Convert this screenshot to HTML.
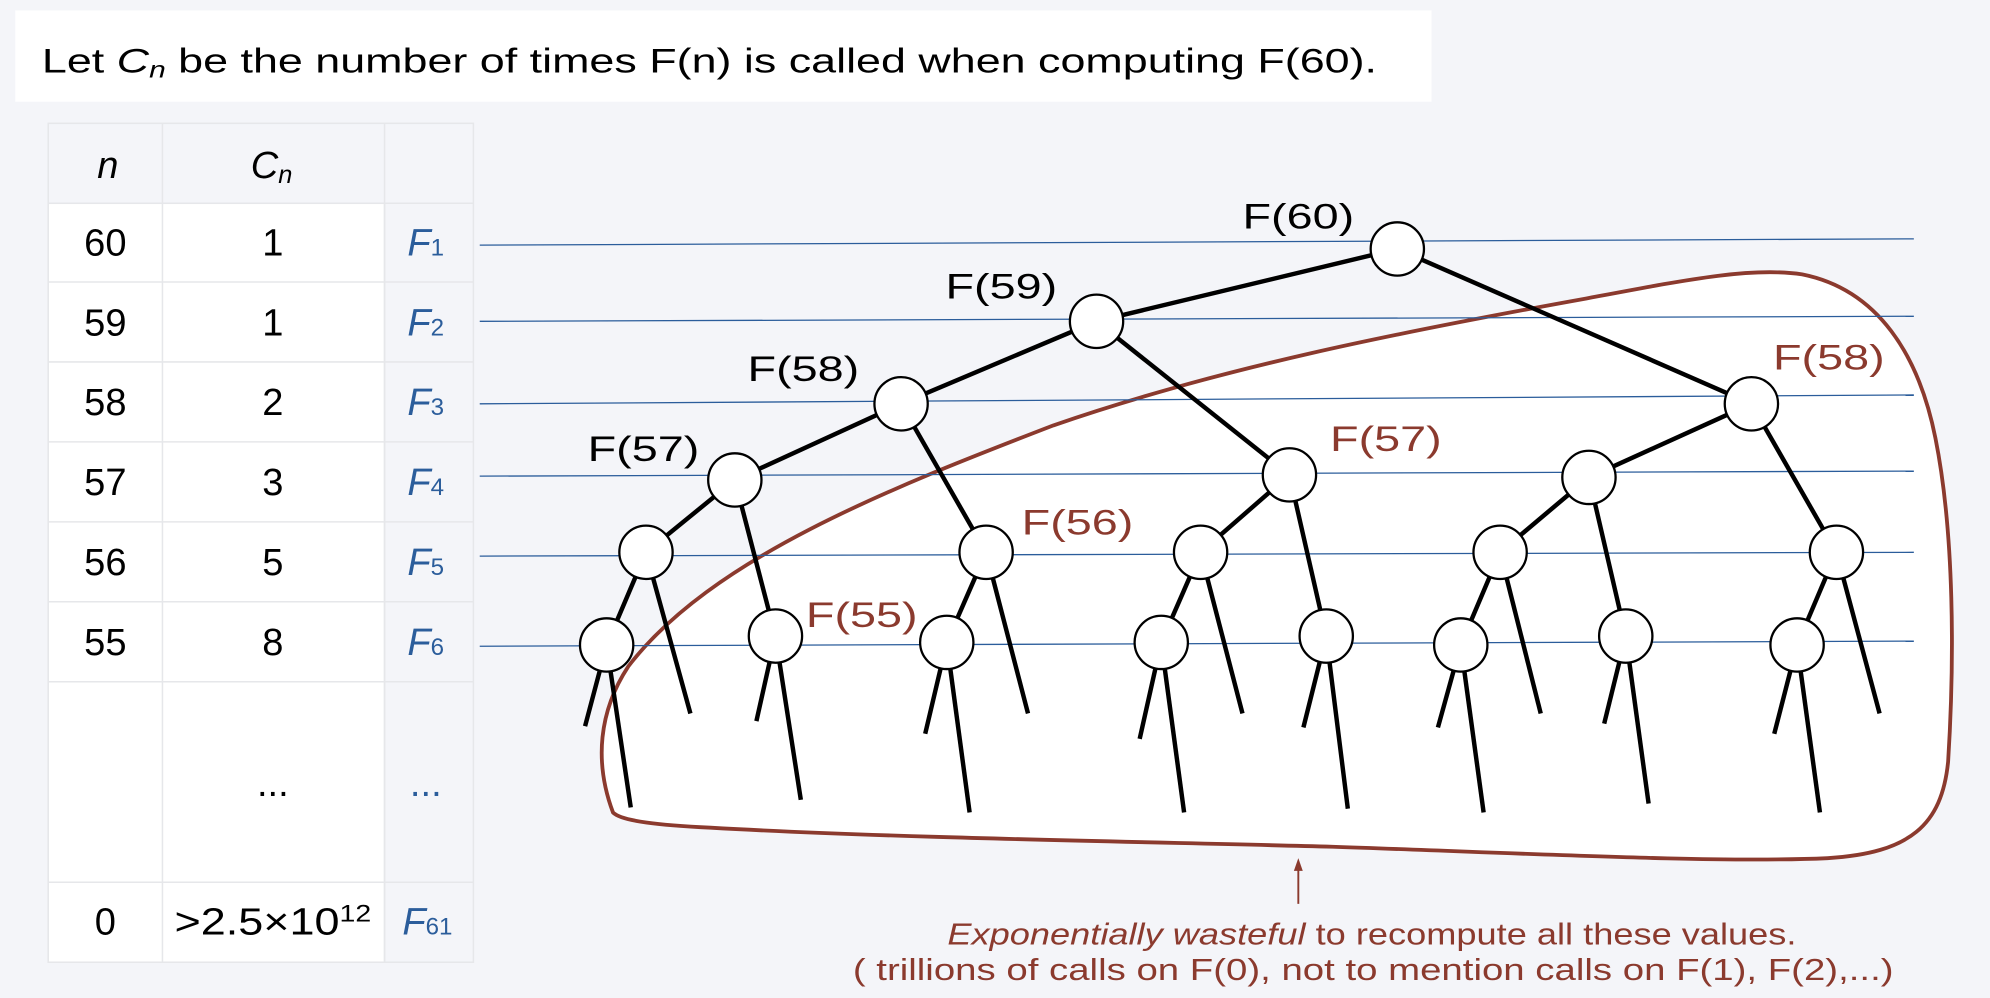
<!DOCTYPE html>
<html><head><meta charset="utf-8"><style>
html,body{margin:0;padding:0;background:#f4f5f9;}
svg{display:block;}
text{font-family:"Liberation Sans","DejaVu Sans",sans-serif;}
</style></head><body>
<svg width="1990" height="998" viewBox="0 0 1568 786" xmlns="http://www.w3.org/2000/svg">
<rect width="1568" height="786" fill="#f4f5f9"/>
<rect x="12" y="8" width="1116" height="72" fill="#fff"/>
<text x="33" y="57" font-size="27" fill="#000" textLength="1052" lengthAdjust="spacingAndGlyphs">Let <tspan font-style="italic">C</tspan><tspan font-style="italic" font-size="18" dy="4">n</tspan><tspan dy="-4"> be the number of times F(n) is called when computing F(60).</tspan></text>

<!-- table -->
<g stroke="#e6e7ea" stroke-width="1.2">
<rect x="38" y="97" width="335" height="661" fill="#f4f5f9"/>
<rect x="38" y="160" width="265" height="598" fill="#fff"/>
<line x1="128" y1="97" x2="128" y2="758"/>
<line x1="303" y1="97" x2="303" y2="758"/>
<line x1="38" y1="160" x2="373" y2="160"/>
<line x1="38" y1="222" x2="373" y2="222"/>
<line x1="38" y1="285" x2="373" y2="285"/>
<line x1="38" y1="348" x2="373" y2="348"/>
<line x1="38" y1="411" x2="373" y2="411"/>
<line x1="38" y1="474" x2="373" y2="474"/>
<line x1="38" y1="537" x2="373" y2="537"/>
<line x1="38" y1="695" x2="373" y2="695"/>
</g>
<g font-size="30" fill="#000" text-anchor="middle">
<text x="85" y="140" font-style="italic">n</text>
<text x="214" y="140" font-style="italic">C<tspan font-size="20" dy="4">n</tspan></text>
<text x="83" y="201">60</text><text x="215" y="201">1</text>
<text x="83" y="264">59</text><text x="215" y="264">1</text>
<text x="83" y="327">58</text><text x="215" y="327">2</text>
<text x="83" y="390">57</text><text x="215" y="390">3</text>
<text x="83" y="453">56</text><text x="215" y="453">5</text>
<text x="83" y="516">55</text><text x="215" y="516">8</text>
<text x="215" y="627">...</text>
<text x="83" y="736">0</text>
<text x="215" y="736" textLength="155" lengthAdjust="spacingAndGlyphs">&gt;2.5×10<tspan font-size="19" dy="-10">12</tspan></text>
</g>
<g font-size="30" fill="#2b5d9b" font-style="italic">
<text x="321" y="201">F<tspan font-size="19" font-style="normal">1</tspan></text>
<text x="321" y="264">F<tspan font-size="19" font-style="normal">2</tspan></text>
<text x="321" y="327">F<tspan font-size="19" font-style="normal">3</tspan></text>
<text x="321" y="390">F<tspan font-size="19" font-style="normal">4</tspan></text>
<text x="321" y="453">F<tspan font-size="19" font-style="normal">5</tspan></text>
<text x="321" y="516">F<tspan font-size="19" font-style="normal">6</tspan></text>
<text x="323" y="627" font-style="normal">...</text>
<text x="317" y="736">F<tspan font-size="19" font-style="normal">61</tspan></text>
</g>

<!-- blob -->
<path d="M483,640 C468,600 472,560 495,525 C560,440 700,385 830,335 C960,290 1100,262 1250,235 C1330,220 1380,210 1420,216 C1480,228 1512,280 1525,345 C1540,420 1540,520 1535,600 C1530,650 1505,672 1440,676 C1350,680 1200,672 1050,667 C900,663 700,660 560,652 C520,650 490,647 483,640 Z" fill="#fff" stroke="#8b3a2e" stroke-width="3"/>

<!-- blue level lines -->
<g stroke="#2b5d9b" stroke-width="1">
<line x1="378" y1="193" x2="1508" y2="188"/>
<line x1="378" y1="253" x2="1508" y2="249"/>
<line x1="378" y1="318" x2="1508" y2="311"/>
<line x1="378" y1="375" x2="1508" y2="371"/>
<line x1="378" y1="438" x2="1508" y2="435"/>
<line x1="378" y1="509" x2="1508" y2="505"/>
</g>

<!-- edges -->
<g stroke="#000" stroke-width="3.5" stroke-linecap="butt">
<line x1="1101" y1="196" x2="864" y2="253"/>
<line x1="1101" y1="196" x2="1380" y2="318"/>
<line x1="864" y1="253" x2="710" y2="318"/>
<line x1="864" y1="253" x2="1016" y2="374"/>
<line x1="710" y1="318" x2="579" y2="378"/>
<line x1="710" y1="318" x2="777" y2="435"/>
<line x1="579" y1="378" x2="509" y2="435"/>
<line x1="579" y1="378" x2="611" y2="501"/>
<line x1="509" y1="435" x2="478" y2="508"/>
<line x1="509" y1="435" x2="544" y2="562"/>
<line x1="478" y1="508" x2="461" y2="572"/>
<line x1="478" y1="508" x2="497" y2="636"/>
<line x1="611" y1="501" x2="596" y2="568"/>
<line x1="611" y1="501" x2="631" y2="630"/>
<line x1="777" y1="435" x2="746" y2="506"/>
<line x1="777" y1="435" x2="810" y2="562"/>
<line x1="746" y1="506" x2="729" y2="578"/>
<line x1="746" y1="506" x2="764" y2="640"/>
<line x1="1016" y1="374" x2="946" y2="435"/>
<line x1="1016" y1="374" x2="1045" y2="501"/>
<line x1="946" y1="435" x2="915" y2="506"/>
<line x1="946" y1="435" x2="979" y2="562"/>
<line x1="915" y1="506" x2="898" y2="582"/>
<line x1="915" y1="506" x2="933" y2="640"/>
<line x1="1045" y1="501" x2="1027" y2="573"/>
<line x1="1045" y1="501" x2="1062" y2="637"/>
<line x1="1380" y1="318" x2="1252" y2="376"/>
<line x1="1380" y1="318" x2="1447" y2="435"/>
<line x1="1252" y1="376" x2="1182" y2="435"/>
<line x1="1252" y1="376" x2="1281" y2="501"/>
<line x1="1182" y1="435" x2="1151" y2="508"/>
<line x1="1182" y1="435" x2="1214" y2="562"/>
<line x1="1151" y1="508" x2="1133" y2="573"/>
<line x1="1151" y1="508" x2="1169" y2="640"/>
<line x1="1281" y1="501" x2="1264" y2="570"/>
<line x1="1281" y1="501" x2="1299" y2="633"/>
<line x1="1447" y1="435" x2="1416" y2="508"/>
<line x1="1447" y1="435" x2="1481" y2="562"/>
<line x1="1416" y1="508" x2="1398" y2="578"/>
<line x1="1416" y1="508" x2="1434" y2="640"/>
</g>

<!-- nodes -->
<g fill="#fff" stroke="#000" stroke-width="1.8">
<circle cx="1101" cy="196" r="21"/>
<circle cx="864" cy="253" r="21"/>
<circle cx="710" cy="318" r="21"/>
<circle cx="579" cy="378" r="21"/>
<circle cx="509" cy="435" r="21"/>
<circle cx="478" cy="508" r="21"/>
<circle cx="611" cy="501" r="21"/>
<circle cx="777" cy="435" r="21"/>
<circle cx="746" cy="506" r="21"/>
<circle cx="1016" cy="374" r="21"/>
<circle cx="946" cy="435" r="21"/>
<circle cx="915" cy="506" r="21"/>
<circle cx="1045" cy="501" r="21"/>
<circle cx="1380" cy="318" r="21"/>
<circle cx="1252" cy="376" r="21"/>
<circle cx="1182" cy="435" r="21"/>
<circle cx="1151" cy="508" r="21"/>
<circle cx="1281" cy="501" r="21"/>
<circle cx="1447" cy="435" r="21"/>
<circle cx="1416" cy="508" r="21"/>
</g>

<!-- labels -->
<g font-size="28" text-anchor="middle">
<text x="1023" y="180" fill="#000" textLength="88" lengthAdjust="spacingAndGlyphs">F(60)</text>
<text x="789" y="235" fill="#000" textLength="88" lengthAdjust="spacingAndGlyphs">F(59)</text>
<text x="633" y="300" fill="#000" textLength="88" lengthAdjust="spacingAndGlyphs">F(58)</text>
<text x="507" y="363" fill="#000" textLength="88" lengthAdjust="spacingAndGlyphs">F(57)</text>
<g fill="#8b3a2e">
<text x="1441" y="291" textLength="88" lengthAdjust="spacingAndGlyphs">F(58)</text>
<text x="1092" y="355" textLength="88" lengthAdjust="spacingAndGlyphs">F(57)</text>
<text x="849" y="421" textLength="88" lengthAdjust="spacingAndGlyphs">F(56)</text>
<text x="679" y="494" textLength="88" lengthAdjust="spacingAndGlyphs">F(55)</text>
</g>
</g>

<!-- arrow -->
<line x1="1023" y1="712" x2="1023" y2="684" stroke="#8b3a2e" stroke-width="1.5"/>
<polygon points="1023,676 1019.5,686 1026.5,686" fill="#8b3a2e"/>
<g fill="#8b3a2e" font-size="24" text-anchor="middle">
<text x="1081" y="744" textLength="669" lengthAdjust="spacingAndGlyphs"><tspan font-style="italic">Exponentially wasteful</tspan> to recompute all these values.</text>
<text x="1082" y="772" textLength="820" lengthAdjust="spacingAndGlyphs">( trillions of calls on F(0), not to mention calls on F(1), F(2),...)</text>
</g>
</svg>
</body></html>
